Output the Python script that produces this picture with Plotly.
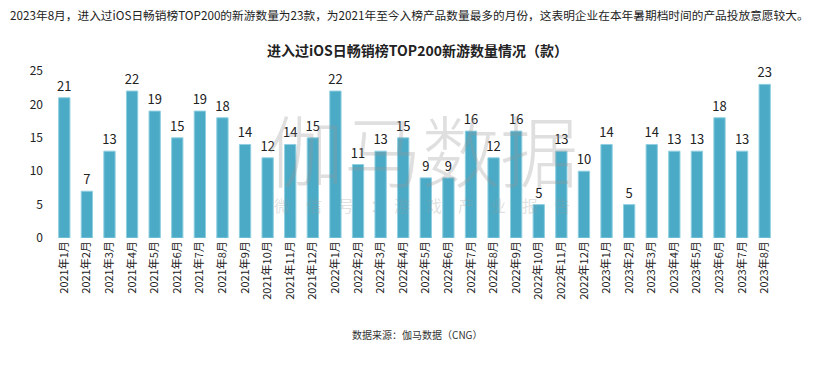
import plotly.graph_objects as go

months = ["2021年1月","2021年2月","2021年3月","2021年4月","2021年5月","2021年6月","2021年7月","2021年8月","2021年9月","2021年10月","2021年11月","2021年12月",
          "2022年1月","2022年2月","2022年3月","2022年4月","2022年5月","2022年6月","2022年7月","2022年8月","2022年9月","2022年10月","2022年11月","2022年12月",
          "2023年1月","2023年2月","2023年3月","2023年4月","2023年5月","2023年6月","2023年7月","2023年8月"]
counts = [21,7,13,22,19,15,19,18,14,12,14,15,22,11,13,15,9,9,16,12,16,5,13,10,14,5,14,13,13,18,13,23]
y_ticks = [0,5,10,15,20,25]

font = "Noto Sans CJK SC"
L, R, T, B = 53, 58, 71, 128
PW, PH = 834 - L - R, 366 - T - B

def px(x):
    return (x - L) / PW

def py(y):
    return (366 - B - y) / PH

fig = go.Figure()
fig.add_trace(go.Bar(
    x=months, y=counts, text=counts, textposition="outside", constraintext="none",
    textfont=dict(size=13, color="#222", family=font),
    marker=dict(color="#4BABC6", line=dict(color="#8FCFE0", width=1)),
    width=0.5, cliponaxis=False,
))

wm = "rgba(150,150,150,0.30)"
fig.update_layout(
    width=834, height=366,
    margin=dict(l=L, r=R, t=T, b=B),
    plot_bgcolor="white", paper_bgcolor="white",
    font=dict(family=font, color="#222"),
    showlegend=False,
    xaxis=dict(tickangle=-90, tickfont=dict(size=11, color="#222"), showgrid=False,
               showline=False, ticks="", automargin=False),
    yaxis=dict(range=[0, 25], tickvals=y_ticks, tickfont=dict(size=12, color="#222"),
               showgrid=False, zeroline=False, showline=False, ticks="", ticklabelstandoff=9,
               automargin=False),
    annotations=[
        dict(text="伽马数据",
             xref="paper", yref="paper", x=px(422), y=py(148), xanchor="center", yanchor="middle",
             showarrow=False, font=dict(size=78, color=wm, family=font, weight=300)),
        dict(text="微\u3000信\u3000号\u3000：\u3000游\u3000戏\u3000产\u3000业\u3000报\u3000告",
             xref="paper", yref="paper", x=px(422), y=py(205), xanchor="center", yanchor="middle",
             showarrow=False, font=dict(size=16, color=wm, family=font)),
        dict(text="2023年8月，进入过iOS日畅销榜TOP200的新游数量为23款，为2021年至今入榜产品数量最多的月份，这表明企业在本年暑期档时间的产品投放意愿较大。",
             xref="paper", yref="paper", x=px(8), y=py(14), xanchor="left", yanchor="middle",
             showarrow=False, font=dict(size=11.7, color="#222", family=font)),
        dict(text="<b>进入过iOS日畅销榜TOP200新游数量情况（款）</b>",
             xref="paper", yref="paper", x=px(417), y=py(50), xanchor="center", yanchor="middle",
             showarrow=False, font=dict(size=14, color="#222", family=font)),
        dict(text="数据来源：伽马数据（CNG）",
             xref="paper", yref="paper", x=px(417), y=py(334), xanchor="center", yanchor="middle",
             showarrow=False, font=dict(size=10, color="#333", family=font)),
    ],
)

fig.write_html("out.html", config={"displayModeBar": False},
               post_script="document.body.style.margin='0';")
